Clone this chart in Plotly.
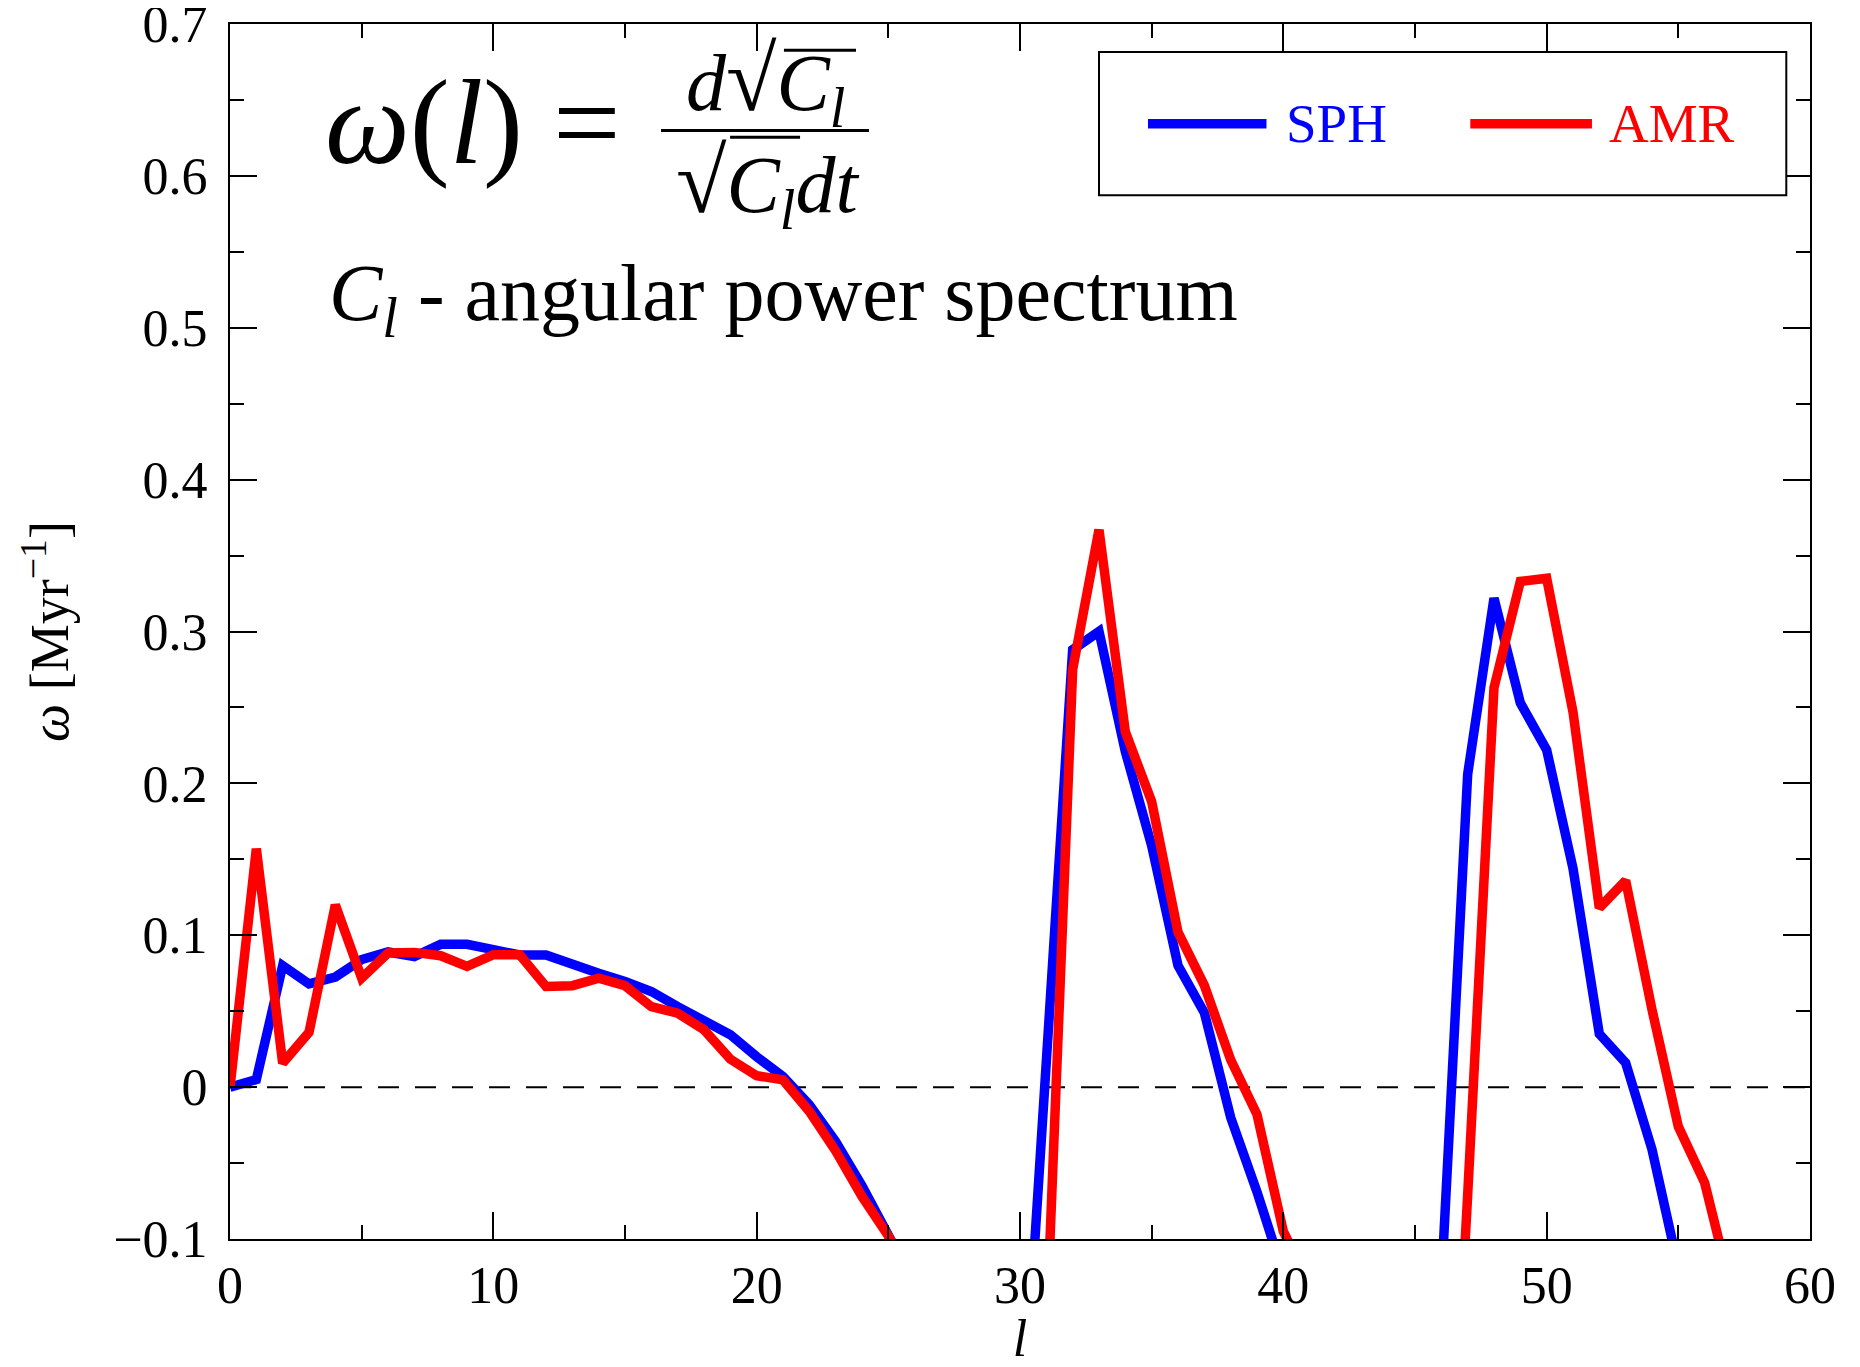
import plotly.graph_objects as go

# ---------------- data ----------------
ell = list(range(0, 61))
sph = [0.0, 0.005, 0.080, 0.068, 0.0725, 0.084, 0.089, 0.086, 0.094, 0.094,
       0.0905, 0.087, 0.087, 0.0806, 0.075, 0.0696, 0.063, 0.053, 0.0444, 0.0345,
       0.020, 0.007, -0.0116, -0.0358, -0.065, -0.096, -0.13, -0.17, -0.22, -0.26,
       -0.254, 0.017, 0.288, 0.300, 0.221, 0.159, 0.080, 0.049, -0.020, -0.069,
       -0.123, -0.16, -0.20, -0.25, -0.30, -0.35, -0.13, 0.206, 0.322, 0.253,
       0.222, 0.144, 0.035, 0.016, -0.041, -0.119, -0.16, -0.20, -0.25, -0.30, -0.35]
amr = [0.0, 0.157, 0.0158, 0.036, 0.120, 0.0718, 0.0883, 0.0887, 0.0865, 0.0795,
       0.0872, 0.0872, 0.0663, 0.0668, 0.0718, 0.0668, 0.053, 0.0487, 0.0378, 0.0184,
       0.0075, 0.0048, -0.016, -0.042, -0.072, -0.098, -0.13, -0.17, -0.22, -0.26,
       -0.30, -0.161, 0.275, 0.367, 0.234, 0.188, 0.102, 0.067, 0.018, -0.018,
       -0.095, -0.13, -0.17, -0.22, -0.27, -0.32, -0.39, -0.071, 0.263, 0.333,
       0.335, 0.247, 0.118, 0.136, 0.051, -0.026, -0.063, -0.133, -0.18, -0.22, -0.27]
series_names = ["SPH", "AMR"]
series_colors = ["#0000FF", "#FF0000"]

x_tick_vals = [0, 10, 20, 30, 40, 50, 60]
x_tick_text = ["0", "10", "20", "30", "40", "50", "60"]
y_tick_vals = [-0.1, 0, 0.1, 0.2, 0.3, 0.4, 0.5, 0.6, 0.7]
y_tick_text = ["\u22120.1", "0", "0.1", "0.2", "0.3", "0.4", "0.5", "0.6", "0.7"]

FONT = "Liberation Serif, Times New Roman, serif"

fig = go.Figure()
for name, ys, col in zip(series_names, [sph, amr], series_colors):
    fig.add_trace(go.Scatter(x=ell, y=ys, mode="lines", name=name,
                             line=dict(color=col, width=9.5), showlegend=False))

# dashed zero line
fig.add_shape(type="line", xref="x domain", yref="y", x0=0, x1=1, y0=0, y1=0,
              line=dict(color="black", width=2, dash="21px,16px"), layer="below")

axis_common = dict(showline=True, linecolor="black", linewidth=2, mirror="ticks",
                   ticks="inside", ticklen=27, tickwidth=2, tickcolor="black",
                   showgrid=False, zeroline=False, ticklabeloverflow="allow",
                   automargin=False,
                   tickfont=dict(family=FONT, size=52, color="black"))

fig.update_xaxes(range=[0, 60], tickmode="array", tickvals=x_tick_vals, ticktext=x_tick_text,
                 minor=dict(ticks="inside", ticklen=14, tickwidth=2, tickcolor="black", dtick=5, tick0=0),
                 title=dict(text="<i>l</i>", font=dict(family=FONT, size=52, color="black"), standoff=23),
                 **axis_common)
fig.update_yaxes(range=[-0.1, 0.7], tickmode="array", tickvals=y_tick_vals, ticktext=y_tick_text,
                 ticklabelstandoff=10,
                 minor=dict(ticks="inside", ticklen=14, tickwidth=2, tickcolor="black", dtick=0.05, tick0=0),
                 title=dict(text="<i>ω</i> [Myr<sup>\u22121</sup>]", font=dict(family=FONT, size=54, color="black"), standoff=27),
                 **axis_common)

# ---------------- formula & text annotations ----------------
def add_text(text, x, y, xanchor, yanchor, size, color="black"):
    fig.add_annotation(text=text, x=x, y=y, xref="paper", yref="paper", xanchor=xanchor,
                       yanchor=yanchor, showarrow=False,
                       font=dict(family=FONT, size=size, color=color))

def add_paper_line(x0, x1, y, color="black", width=3):
    fig.add_shape(type="line", xref="paper", yref="paper", x0=x0, x1=x1, y0=y, y1=y,
                  line=dict(color=color, width=width), layer="above")

RAD = "<span style='font-size:92px'>√</span>"
add_text("<i>ω</i>(<i>l</i>) =", 0.0589, 0.919, "left", "middle", 120)
add_text("<i>d</i>" + RAD + "<i>C<sub>l</sub></i>", 0.3392, 0.9033, "center", "bottom", 80)
add_text(RAD + "<i>C<sub>l</sub>dt</i>", 0.3405, 0.9148, "center", "top", 80)
add_text("<i>C<sub>l</sub></i> - angular power spectrum", 0.0615, 0.7735, "left", "middle", 80)

# fraction bar and radical vincula
add_paper_line(0.2728, 0.4044, 0.9123)
add_paper_line(0.3506, 0.3962, 0.9784)
add_paper_line(0.3165, 0.3608, 0.9067)

# ---------------- legend box (manual, to match the long line samples) ----------------
fig.add_shape(type="rect", xref="paper", yref="paper", x0=0.550, x1=0.985, y0=0.859, y1=0.977,
              line=dict(color="black", width=2), fillcolor="white", layer="above")
leg_x = [(0.581, 0.656, 0.667), (0.785, 0.862, 0.8715)]
for (lx0, lx1, tx), name, col in zip(leg_x, series_names, series_colors):
    add_paper_line(lx0, lx1, 0.918, color=col, width=9.5)
    add_text(name, tx, 0.918, "left", "middle", 55, color=col)

fig.update_layout(width=1852, height=1359, margin=dict(l=222, r=50, t=16, b=128, autoexpand=False),
                  paper_bgcolor="white", plot_bgcolor="white", showlegend=False,
                  font=dict(family=FONT, color="black"))

fig.write_html("out.html")
